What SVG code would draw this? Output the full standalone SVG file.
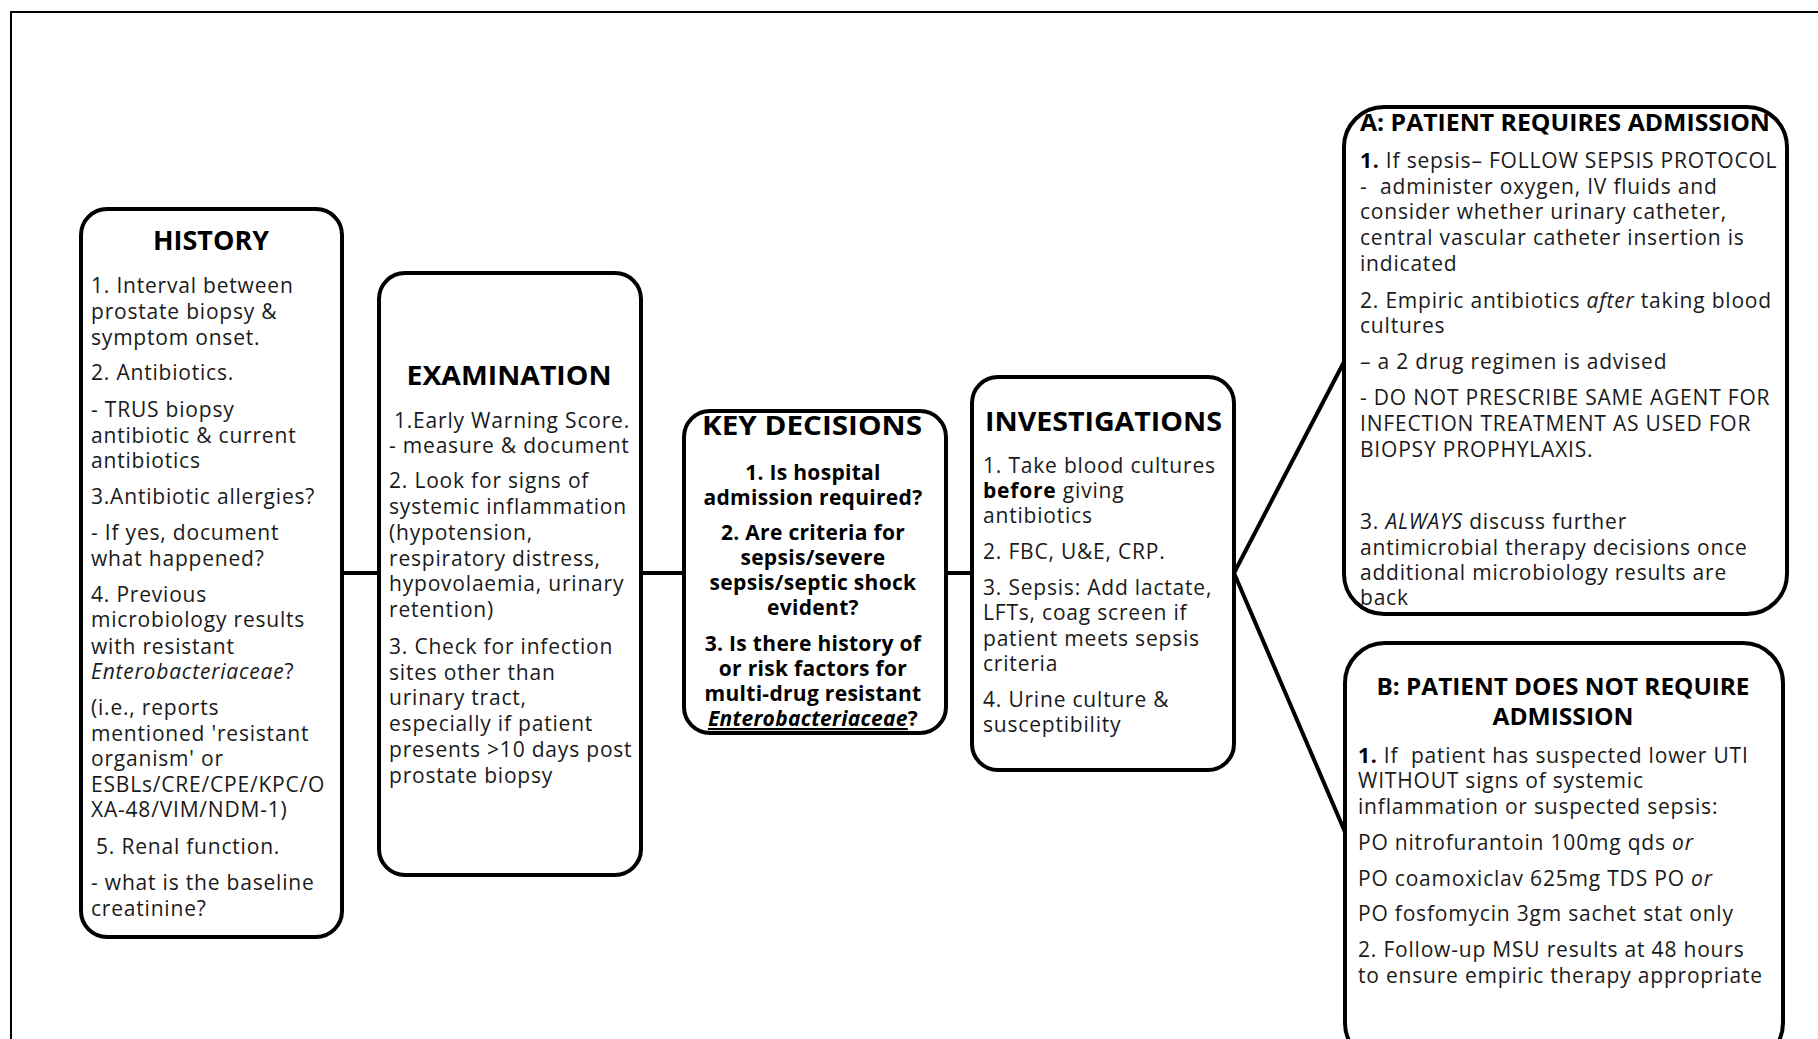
<svg xmlns="http://www.w3.org/2000/svg" width="1818" height="1039" viewBox="0 0 1818 1039">
<style>
.box{fill:#ffffff;stroke:#000;stroke-width:4}
.frame{fill:none;stroke:#000;stroke-width:2}
.conn{fill:none;stroke:#000;stroke-width:4}
text{font-family:"Open Sans","Noto Sans","Liberation Sans",sans-serif;fill:#1a1a1a}
.t{font-size:21px;letter-spacing:0.8px}
.title{font-size:26px;font-weight:bold;fill:#000}
.kd{font-size:21px;font-weight:bold;text-anchor:middle;fill:#000;letter-spacing:0.3px}
.mid{text-anchor:middle}
.b{font-weight:bold;fill:#000}
.i{font-style:italic}
</style>
<rect width="1818" height="1039" fill="#ffffff"/>
<path class="frame" d="M11,1039 V12 H1818"/>

<g id="connectors">
<line class="conn" x1="342" y1="573" x2="379" y2="573"/>
<line class="conn" x1="641" y1="573" x2="684" y2="573"/>
<line class="conn" x1="946" y1="573" x2="972" y2="573"/>
<line class="conn" x1="1234" y1="573" x2="1345" y2="360"/>
<line class="conn" x1="1234" y1="573" x2="1345" y2="832"/>
</g>

<g id="history">
<rect class="box" x="81" y="209" width="261" height="728" rx="26"/>
<text class="title mid" x="211" y="250" textLength="116" lengthAdjust="spacingAndGlyphs">HISTORY</text>
<text class="t" x="91" y="293">1. Interval between</text>
<text class="t" x="91" y="319">prostate biopsy &amp;</text>
<text class="t" x="91" y="345">symptom onset.</text>
<text class="t" x="91" y="380">2. Antibiotics.</text>
<text class="t" x="91" y="417">- TRUS biopsy</text>
<text class="t" x="91" y="443">antibiotic &amp; current</text>
<text class="t" x="91" y="468">antibiotics</text>
<text class="t" x="91" y="504">3.Antibiotic allergies?</text>
<text class="t" x="91" y="540">- If yes, document</text>
<text class="t" x="91" y="566">what happened?</text>
<text class="t" x="91" y="602">4. Previous</text>
<text class="t" x="91" y="627">microbiology results</text>
<text class="t" x="91" y="654">with resistant</text>
<text class="t" x="91" y="679"><tspan class="i">Enterobacteriaceae</tspan>?</text>
<text class="t" x="91" y="715">(i.e., reports</text>
<text class="t" x="91" y="741">mentioned 'resistant</text>
<text class="t" x="91" y="766">organism' or</text>
<text class="t" x="91" y="792">ESBLs/CRE/CPE/KPC/O</text>
<text class="t" x="91" y="817">XA-48/VIM/NDM-1)</text>
<text class="t" x="96" y="854">5. Renal function.</text>
<text class="t" x="91" y="890">- what is the baseline</text>
<text class="t" x="91" y="916">creatinine?</text>
</g>

<g id="examination">
<rect class="box" x="379" y="273" width="262" height="602" rx="26"/>
<text class="title mid" x="509" y="385" textLength="205" lengthAdjust="spacingAndGlyphs">EXAMINATION</text>
<text class="t" x="394" y="428">1.Early Warning Score.</text>
<text class="t" x="389" y="453">- measure &amp; document</text>
<text class="t" x="389" y="488">2. Look for signs of</text>
<text class="t" x="389" y="514">systemic inflammation</text>
<text class="t" x="389" y="540">(hypotension,</text>
<text class="t" x="389" y="566">respiratory distress,</text>
<text class="t" x="389" y="591">hypovolaemia, urinary</text>
<text class="t" x="389" y="617">retention)</text>
<text class="t" x="389" y="654">3. Check for infection</text>
<text class="t" x="389" y="680">sites other than</text>
<text class="t" x="389" y="705">urinary tract,</text>
<text class="t" x="389" y="731">especially if patient</text>
<text class="t" x="389" y="757">presents &gt;10 days post</text>
<text class="t" x="389" y="783">prostate biopsy</text>
</g>

<g id="key-decisions">
<rect class="box" x="684" y="411" width="262" height="322" rx="26"/>
<text class="title mid" x="812" y="435" textLength="220" lengthAdjust="spacingAndGlyphs">KEY DECISIONS</text>
<text class="kd" x="813" y="480">1. Is hospital</text>
<text class="kd" x="813" y="505">admission required?</text>
<text class="kd" x="813" y="540">2. Are criteria for</text>
<text class="kd" x="813" y="565">sepsis/severe</text>
<text class="kd" x="813" y="590">sepsis/septic shock</text>
<text class="kd" x="813" y="615">evident?</text>
<text class="kd" x="813" y="651">3. Is there history of</text>
<text class="kd" x="813" y="676">or risk factors for</text>
<text class="kd" x="813" y="701">multi-drug resistant</text>
<text class="kd" x="813" y="726"><tspan class="i" text-decoration="underline">Enterobacteriaceae</tspan>?</text>
</g>

<g id="investigations">
<rect class="box" x="972" y="377" width="262" height="393" rx="26"/>
<text class="title" x="985" y="431" textLength="237" lengthAdjust="spacingAndGlyphs">INVESTIGATIONS</text>
<text class="t" x="983" y="473">1. Take blood cultures</text>
<text class="t" x="983" y="498"><tspan class="b">before</tspan> giving</text>
<text class="t" x="983" y="523">antibiotics</text>
<text class="t" x="983" y="559">2. FBC, U&amp;E, CRP.</text>
<text class="t" x="983" y="595">3. Sepsis: Add lactate,</text>
<text class="t" x="983" y="620">LFTs, coag screen if</text>
<text class="t" x="983" y="646">patient meets sepsis</text>
<text class="t" x="983" y="671">criteria</text>
<text class="t" x="983" y="707">4. Urine culture &amp;</text>
<text class="t" x="983" y="732">susceptibility</text>
</g>

<g id="admission-a">
<rect class="box" x="1344" y="107" width="443" height="507" rx="40"/>
<text class="title" x="1360" y="131" style="font-size:23px" textLength="410" lengthAdjust="spacingAndGlyphs">A: PATIENT REQUIRES ADMISSION</text>
<text class="t" x="1360" y="168"><tspan class="b">1.</tspan> If sepsis– FOLLOW SEPSIS PROTOCOL</text>
<text class="t" x="1360" y="194" xml:space="preserve">-  administer oxygen, IV fluids and</text>
<text class="t" x="1360" y="219">consider whether urinary catheter,</text>
<text class="t" x="1360" y="245">central vascular catheter insertion is</text>
<text class="t" x="1360" y="271">indicated</text>
<text class="t" x="1360" y="308">2. Empiric antibiotics <tspan class="i">after</tspan> taking blood</text>
<text class="t" x="1360" y="333">cultures</text>
<text class="t" x="1360" y="369">– a 2 drug regimen is advised</text>
<text class="t" x="1360" y="405">- DO NOT PRESCRIBE SAME AGENT FOR</text>
<text class="t" x="1360" y="431">INFECTION TREATMENT AS USED FOR</text>
<text class="t" x="1360" y="457">BIOPSY PROPHYLAXIS.</text>
<text class="t" x="1360" y="529">3. <tspan class="i">ALWAYS</tspan> discuss further</text>
<text class="t" x="1360" y="555">antimicrobial therapy decisions once</text>
<text class="t" x="1360" y="580">additional microbiology results are</text>
<text class="t" x="1360" y="605">back</text>
</g>

<g id="admission-b">
<rect class="box" x="1345" y="643" width="438" height="420" rx="40"/>
<text class="title mid" x="1563" y="695" style="font-size:24px" textLength="373" lengthAdjust="spacingAndGlyphs">B: PATIENT DOES NOT REQUIRE</text>
<text class="title mid" x="1563" y="725" style="font-size:24px" textLength="141" lengthAdjust="spacingAndGlyphs">ADMISSION</text>
<text class="t" x="1358" y="763" xml:space="preserve"><tspan class="b">1.</tspan> If  patient has suspected lower UTI</text>
<text class="t" x="1358" y="788">WITHOUT signs of systemic</text>
<text class="t" x="1358" y="814">inflammation or suspected sepsis:</text>
<text class="t" x="1358" y="850">PO nitrofurantoin 100mg qds <tspan class="i">or</tspan></text>
<text class="t" x="1358" y="886">PO coamoxiclav 625mg TDS PO <tspan class="i">or</tspan></text>
<text class="t" x="1358" y="921">PO fosfomycin 3gm sachet stat only</text>
<text class="t" x="1358" y="957">2. Follow-up MSU results at 48 hours</text>
<text class="t" x="1358" y="983">to ensure empiric therapy appropriate</text>
</g>
</svg>
